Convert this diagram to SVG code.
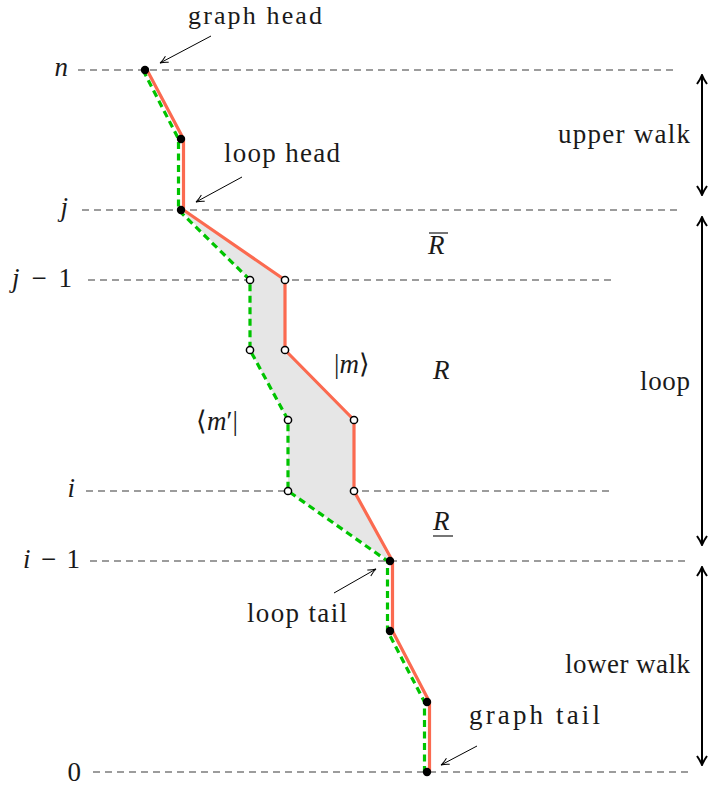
<svg xmlns="http://www.w3.org/2000/svg" width="713" height="791" viewBox="0 0 713 791">
<style>
text{fill:#1a1a1a}
.level{stroke:#3a3a3a;stroke-width:1.1;stroke-dasharray:7 5;fill:none}
.red{stroke:#fb6a50;stroke-width:3.2;fill:none;stroke-linejoin:round}
.green{stroke:#00c400;stroke-width:3.2;fill:none;stroke-dasharray:7 4.5}
.ptr{stroke:#000;stroke-width:1;fill:none;marker-end:url(#thin)}
.span{stroke:#000;stroke-width:2;fill:none;marker-start:url(#big);marker-end:url(#big)}
.dot{fill:#000}
.open{fill:#fff;stroke:#000;stroke-width:1.5}
</style>
<defs>
<marker id="thin" viewBox="0 0 10 10" refX="9" refY="5" markerWidth="10" markerHeight="10" markerUnits="userSpaceOnUse" orient="auto">
<path d="M1,1.5 Q5,4 9,5 Q5,6 1,8.5" fill="none" stroke="#000" stroke-width="1"/>
</marker>
<marker id="big" viewBox="0 0 12 12" refX="11" refY="6" markerWidth="12" markerHeight="12" markerUnits="userSpaceOnUse" orient="auto-start-reverse">
<path d="M2,1 Q7,4.5 11,6 Q7,7.5 2,11" fill="none" stroke="#000" stroke-width="2"/>
</marker>
</defs>

<g id="levels">
<line class="level" x1="78" y1="70" x2="677" y2="70"/>
<line class="level" x1="82" y1="210" x2="679" y2="210"/>
<line class="level" x1="88" y1="280" x2="612" y2="280"/>
<line class="level" x1="86" y1="491" x2="614" y2="491"/>
<line class="level" x1="90" y1="561" x2="688" y2="561"/>
<line class="level" x1="93" y1="772" x2="688" y2="772"/>
</g>

<g id="level-labels">
<text x="68" y="76" text-anchor="end" style="font-family:'Liberation Serif';font-size:27px;font-style:italic">n</text>
<text x="68" y="216" text-anchor="end" style="font-family:'Liberation Serif';font-size:27px;font-style:italic">j</text>
<text x="12" y="287" textLength="60" lengthAdjust="spacing" style="font-family:'Liberation Serif';font-size:27px"><tspan style="font-style:italic">j</tspan> − 1</text>
<text x="75" y="497" text-anchor="end" style="font-family:'Liberation Serif';font-size:27px;font-style:italic">i</text>
<text x="23" y="568" textLength="57" lengthAdjust="spacing" style="font-family:'Liberation Serif';font-size:27px"><tspan style="font-style:italic">i</tspan> − 1</text>
<text x="81" y="781" text-anchor="end" style="font-family:'Liberation Serif';font-size:27px">0</text>
</g>

<g id="loop-region">
<polygon points="181,210 285,280 285,350 354,420 354,491 390,561 288,491 288,420 250,350 250,280" fill="#e6e6e6"/>
</g>

<g id="connectors">
<path id="ket-path" class="red" d="M147,70 L183.5,139 L183.5,210 L285,280 L285,350 L354,420 L354,491 L392.5,561 L392.5,631 L429.5,702 L429.5,772"/>
<path id="bra-path" class="green" d="M143,70 L178.5,139 L178.5,210 L250,280 L250,350 L288,420 L288,491 L387.5,561 L387.5,631 L424.5,702 L424.5,772"/>
<line class="ptr" x1="211" y1="36" x2="160" y2="63"/>
<line class="ptr" x1="242" y1="177" x2="196" y2="202"/>
<line class="ptr" x1="334" y1="593" x2="376" y2="569"/>
<line class="ptr" x1="477" y1="746" x2="441" y2="765"/>
<line class="span" x1="702" y1="75" x2="702" y2="195"/>
<line class="span" x1="702" y1="217" x2="702" y2="545"/>
<line class="span" x1="702" y1="567" x2="702" y2="765"/>
</g>

<g id="node-n"><circle class="dot" cx="145" cy="70" r="4.2"/></g>
<g id="node-u1"><circle class="dot" cx="181" cy="139" r="4.2"/></g>
<g id="node-j"><circle class="dot" cx="181" cy="210" r="4.2"/></g>
<g id="node-ket-j1"><circle class="open" cx="285" cy="280" r="3.6"/></g>
<g id="node-bra-j1"><circle class="open" cx="250" cy="280" r="3.6"/></g>
<g id="node-ket-m1"><circle class="open" cx="285" cy="350" r="3.6"/></g>
<g id="node-bra-m1"><circle class="open" cx="250" cy="350" r="3.6"/></g>
<g id="node-ket-m2"><circle class="open" cx="354" cy="420" r="3.6"/></g>
<g id="node-bra-m2"><circle class="open" cx="288" cy="420" r="3.6"/></g>
<g id="node-ket-i"><circle class="open" cx="354" cy="491" r="3.6"/></g>
<g id="node-bra-i"><circle class="open" cx="288" cy="491" r="3.6"/></g>
<g id="node-i1"><circle class="dot" cx="390" cy="561" r="4.2"/></g>
<g id="node-l1"><circle class="dot" cx="390" cy="631" r="4.2"/></g>
<g id="node-l2"><circle class="dot" cx="427" cy="702" r="4.2"/></g>
<g id="node-0"><circle class="dot" cx="427" cy="772" r="4.2"/></g>

<g id="labels">
<text x="188" y="24" textLength="134" lengthAdjust="spacing" style="font-family:'Liberation Serif';font-size:26px">graph head</text>
<text x="224" y="162" textLength="116" lengthAdjust="spacing" style="font-family:'Liberation Serif';font-size:27px">loop head</text>
<text x="247" y="622" textLength="100" lengthAdjust="spacing" style="font-family:'Liberation Serif';font-size:27px">loop tail</text>
<text x="469" y="724" textLength="131" lengthAdjust="spacing" style="font-family:'Liberation Serif';font-size:27px">graph tail</text>
<text x="558" y="143" textLength="132" lengthAdjust="spacing" style="font-family:'Liberation Serif';font-size:27px">upper walk</text>
<text x="640" y="390" textLength="50" lengthAdjust="spacing" style="font-family:'Liberation Serif';font-size:27px">loop</text>
<text x="565" y="673" textLength="125" lengthAdjust="spacing" style="font-family:'Liberation Serif';font-size:27px">lower walk</text>
</g>

<g id="region-labels">
<text x="428" y="254" style="font-family:'Liberation Serif';font-size:27px;font-style:italic">R</text>
<line x1="429" y1="233" x2="448" y2="233" stroke="#1a1a1a" stroke-width="1.2"/>
<text x="433" y="379" style="font-family:'Liberation Serif';font-size:27px;font-style:italic">R</text>
<text x="433" y="530" style="font-family:'Liberation Serif';font-size:27px;font-style:italic">R</text>
<line x1="433" y1="536" x2="453" y2="536" stroke="#1a1a1a" stroke-width="1.2"/>
<text x="334" y="373" style="font-family:'Liberation Serif';font-size:27px">|<tspan style="font-style:italic">m</tspan>⟩</text>
<text x="196" y="430" style="font-family:'Liberation Serif';font-size:27px">⟨<tspan style="font-style:italic">m</tspan>′|</text>
</g>
</svg>
